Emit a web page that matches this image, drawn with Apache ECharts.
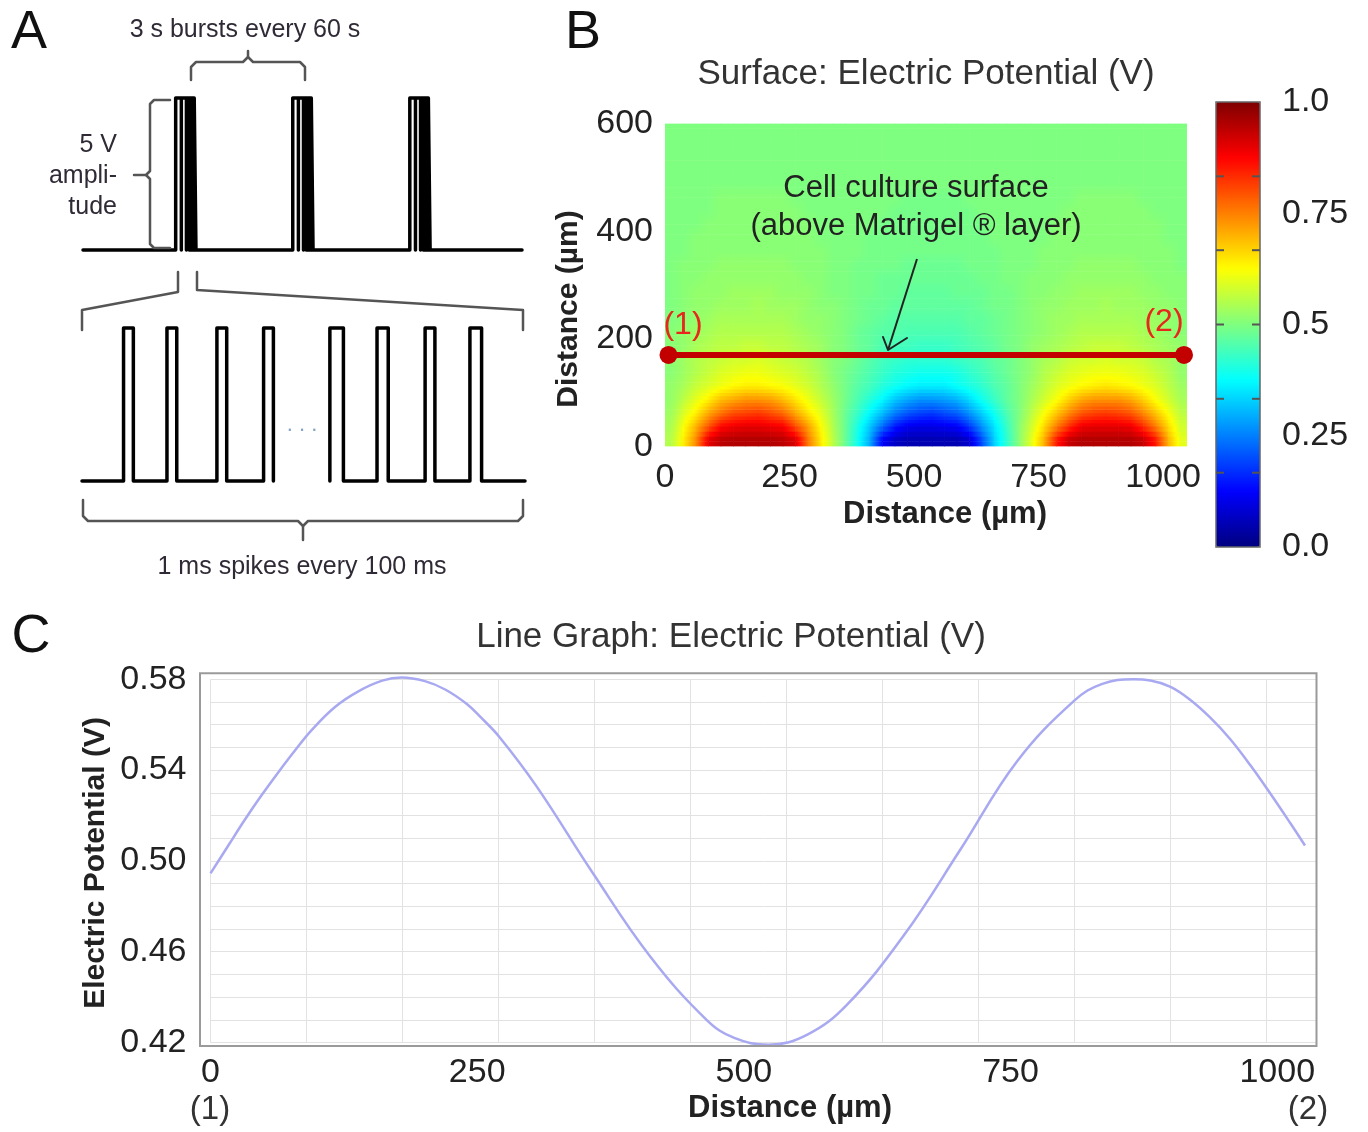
<!DOCTYPE html>
<html>
<head>
<meta charset="utf-8">
<script src="https://cdn.jsdelivr.net/npm/echarts@6/dist/echarts.min.js"></script>
<style>
html,body{margin:0;padding:0;background:#fff}
#c{width:1368px;height:1132px}
</style>
</head>
<body>
<div id="c"></div>
<script>
// ---------------- Panel A : stimulation schematic (schematic units) ----------------
const burstStarts = [47.5, 107.5, 167.5];          // s, one burst every 60 s
const burstEdges = [0, 2.9, 5.5, 6.9, 8.2, 9.5, 10.4]; // edges inside one burst
const burstTraceEnd = 225;
const spikesLeft = [[89, 110], [182, 203], [289, 310], [389, 410]];   // [rise, fall]
const spikesRight = [[531, 560], [632, 656], [735, 756], [831, 856]];
const spikeTraceEnd = 949;

// ---------------- Panel B : surface potential (V), rows from bottom (0 µm) to top (600 µm) ----------------
const heatRows = [
  "55 64 74 90 94 95 95 95 95 94 91 76 65 56  48 39 29 12 07 05 05 05 05 05 08 20 33 42  51 60 70 85 93 95 95 95 95 95 93 85 70 60",
  "54 62 70 79 87 89 90 90 89 88 80 72 63 55  48 40 32 23 15 11 10 10 11 12 18 27 35 43  51 58 66 75 83 89 90 90 90 89 83 75 66 58",
  "53 59 64 71 76 80 81 82 80 77 71 65 60 54  48 43 37 31 25 21 19 18 20 22 27 33 39 45  50 56 62 68 74 79 81 82 81 79 74 68 62 56",
  "52 56 60 64 69 71 73 73 72 69 65 61 57 53  49 45 41 37 32 29 27 27 28 30 34 39 43 47  50 54 58 62 67 71 73 73 73 71 67 62 58 54",
  "52 54 57 59 61 63 64 64 63 62 60 58 55 52  49 46 44 41 39 37 36 36 36 38 40 42 45 47  50 53 56 59 61 63 64 65 64 63 61 59 56 53",
  "51 53 55 57 59 60 61 61 60 59 58 56 54 51  49 47 45 43 41 40 39 39 39 40 42 44 46 48  50 52 55 57 59 60 61 61 61 60 59 57 55 52",
  "51 53 55 56 57 58 58 59 58 57 56 55 53 51  50 48 46 44 43 42 42 42 42 43 44 45 47 48  50 52 54 55 57 58 58 59 58 58 57 55 54 52",
  "51 52 54 55 56 56 57 57 56 56 55 54 53 51  50 48 47 45 44 44 43 43 43 44 45 46 47 49  50 52 53 54 55 56 57 57 57 56 55 54 53 52",
  "51 52 53 54 55 55 55 55 55 55 54 53 52 51  50 48 47 46 46 45 45 45 45 45 46 47 48 49  50 51 52 53 54 55 55 55 55 55 54 53 52 51",
  "50 51 52 53 54 54 54 54 54 54 53 52 52 51  50 49 48 47 46 46 46 46 46 46 47 47 48 49  50 51 52 53 53 54 54 54 54 54 53 53 52 51",
  "50 51 52 52 53 53 53 54 53 53 53 52 51 51  50 49 48 48 47 47 47 47 47 47 47 48 49 49  50 51 52 52 53 53 53 54 53 53 53 52 52 51",
  "50 51 52 52 52 53 53 53 53 52 52 52 51 50  50 49 49 48 48 47 47 47 47 48 48 48 49 49  50 51 51 52 52 53 53 53 53 53 52 52 51 51",
  "50 51 51 52 52 52 52 52 52 52 52 51 51 50  50 49 49 48 48 48 48 48 48 48 48 49 49 50  50 51 51 51 52 52 52 52 52 52 52 51 51 51",
  "50 51 51 51 52 52 52 52 52 52 51 51 51 50  50 49 49 49 49 48 48 48 48 48 49 49 49 50  50 50 51 51 51 52 52 52 52 52 51 51 51 50",
  "50 50 51 51 51 51 51 51 51 51 51 51 51 50  50 50 49 49 49 49 49 49 49 49 49 49 49 50  50 50 51 51 51 51 51 51 51 51 51 51 51 50",
  "50 50 51 51 51 51 51 51 51 51 51 51 50 50  50 50 49 49 49 49 49 49 49 49 49 49 50 50  50 50 50 51 51 51 51 51 51 51 51 51 50 50",
  "50 50 50 51 51 51 51 51 51 51 51 51 50 50  50 50 50 49 49 49 49 49 49 49 49 49 50 50  50 50 50 51 51 51 51 51 51 51 51 51 50 50",
  "50 50 50 50 51 51 51 51 51 51 51 50 50 50  50 50 50 50 49 49 49 49 49 49 49 50 50 50  50 50 50 50 51 51 51 51 51 51 51 50 50 50",
  "50 50 50 50 51 51 51 51 51 51 50 50 50 50  50 50 50 50 50 49 49 49 49 49 50 50 50 50  50 50 50 50 50 51 51 51 51 51 50 50 50 50",
  "50 50 50 50 50 50 50 50 50 50 50 50 50 50  50 50 50 50 50 50 50 50 50 50 50 50 50 50  50 50 50 50 50 50 50 50 50 50 50 50 50 50",
  "50 50 50 50 50 50 50 50 50 50 50 50 50 50  50 50 50 50 50 50 50 50 50 50 50 50 50 50  50 50 50 50 50 50 50 50 50 50 50 50 50 50",
  "50 50 50 50 50 50 50 50 50 50 50 50 50 50  50 50 50 50 50 50 50 50 50 50 50 50 50 50  50 50 50 50 50 50 50 50 50 50 50 50 50 50",
  "50 50 50 50 50 50 50 50 50 50 50 50 50 50  50 50 50 50 50 50 50 50 50 50 50 50 50 50  50 50 50 50 50 50 50 50 50 50 50 50 50 50",
  "50 50 50 50 50 50 50 50 50 50 50 50 50 50  50 50 50 50 50 50 50 50 50 50 50 50 50 50  50 50 50 50 50 50 50 50 50 50 50 50 50 50"
];
const cutLine = [[7, 170], [1042, 170]];          // µm
const xTicksB = [0, 250, 500, 750, 1000];
const yTicksB = [0, 200, 400, 600];
const cbarTicks = [0, 0.25, 0.5, 0.75, 1];
const cbarLabels = ['0.0', '0.25', '0.5', '0.75', '1.0'];
const cbarMarks = [0.167, 0.333, 0.5, 0.667, 0.833];
const JET = ['#00007f', '#0000ff', '#007fff', '#00ffff', '#7fff7f', '#ffff00', '#ff7f00', '#ff0000', '#7f0000'];

// ---------------- Panel C : potential along the cut line ----------------
const profileX = [0, 17, 32, 48, 64, 79, 95, 117, 139, 161, 179, 201, 220, 240, 253, 271, 306, 359, 412, 465, 491, 523, 560, 597, 650, 703, 756, 810, 836, 865, 881, 900, 918, 937, 956, 975, 993, 1012, 1026];
const profileV = [0.4945, 0.5070, 0.5180, 0.5290, 0.5393, 0.5485, 0.5577, 0.5679, 0.5748, 0.5794, 0.5808, 0.5792, 0.5755, 0.5692, 0.5634, 0.5545, 0.5326, 0.4942, 0.4580, 0.4300, 0.4220, 0.4190, 0.4236, 0.4368, 0.4672, 0.5050, 0.5438, 0.5707, 0.5780, 0.5800, 0.5795, 0.5767, 0.5711, 0.5632, 0.5536, 0.5420, 0.5300, 0.5168, 0.5068];
const xTicksC = [0, 250, 500, 750, 1000];
const yTicksC = [0.42, 0.46, 0.50, 0.54, 0.58];

// ---------------- build series data ----------------
function burstTrace() {
  const pts = [[0, 0]];
  burstStarts.forEach(s => {
    pts.push([s, 0], [s, 1]);
    for (let i = 1; i < burstEdges.length - 1; i++) {
      const t = s + burstEdges[i];
      pts.push([t, 1], [t, 0], [t, 1]);
    }
    const e = s + burstEdges[burstEdges.length - 1];
    pts.push([e, 1], [e, 0]);
  });
  pts.push([burstTraceEnd, 0]);
  return pts;
}
function spikeTrace(spikes, start, end) {
  const pts = [];
  if (start !== null) pts.push([start, 0]);
  spikes.forEach(([r, f]) => pts.push([r, 0], [r, 1], [f, 1], [f, 0]));
  if (end !== null) pts.push([end, 0]);
  return pts;
}
const heatGrid = heatRows.map(row => row.trim().split(/\s+/).map(v => Number(v) / 100));
const nRows = heatGrid.length, nCols = heatGrid[0].length;
const heatData = [];
heatGrid.forEach((row, r) => row.forEach((v, c) => heatData.push([c, r, v])));
const xCats = Array.from({length: nCols}, (_, i) => i);
const yCats = Array.from({length: nRows}, (_, i) => i);
const profile = profileX.map((x, i) => [x, profileV[i]]);

// smooth shading of the read cell values (rendering only)
function fieldAt(cf, rf) {
  cf = Math.max(0, Math.min(nCols - 1, cf));
  rf = Math.max(0, Math.min(nRows - 1, rf));
  const c0 = Math.floor(cf), r0 = Math.floor(rf);
  const c1 = Math.min(c0 + 1, nCols - 1), r1 = Math.min(r0 + 1, nRows - 1);
  const tx = cf - c0, ty = rf - r0;
  const a = heatGrid[r0][c0] * (1 - tx) + heatGrid[r0][c1] * tx;
  const b = heatGrid[r1][c0] * (1 - tx) + heatGrid[r1][c1] * tx;
  return a * (1 - ty) + b * ty;
}
function renderField(params, api) {
  const c = api.value(0), r = api.value(1);
  const sz = api.size([1, 1]);
  const cw = sz[0], ch = sz[1];
  const p = api.coord([c, r]);
  const x0 = c === 0 ? p[0] - cw / 2 : p[0];
  const x1 = c === nCols - 1 ? p[0] + cw / 2 : p[0] + cw;
  const yA = r === 0 ? p[1] + ch / 2 : p[1];
  const yB = r === nRows - 1 ? p[1] - ch / 2 : p[1] - ch;
  const S = 4, K = 4;
  const children = [];
  for (let s = 0; s < S; s++) {
    const ys0 = yA + (yB - yA) * s / S, ys1 = yA + (yB - yA) * (s + 1) / S;
    const ym = (ys0 + ys1) / 2;
    const rf = r + (p[1] - ym) / ch;
    const stops = [];
    for (let k = 0; k <= K; k++) {
      const xm = x0 + (x1 - x0) * k / K;
      const cf = c + (xm - p[0]) / cw;
      stops.push({offset: k / K, color: echarts.color.lerp(fieldAt(cf, rf), JET)});
    }
    children.push({
      type: 'rect',
      shape: {x: x0 - 0.3, y: Math.min(ys0, ys1) - 0.3, width: (x1 - x0) + 0.6, height: Math.abs(ys1 - ys0) + 0.6},
      style: {fill: new echarts.graphic.LinearGradient(0, 0, 1, 0, stops)}
    });
  }
  return {type: 'group', children: children};
}

const FONT = '"Liberation Sans", Arial, sans-serif';
function txt(x, y, text, size, o) {
  o = o || {};
  const font = (o.bold ? 'bold ' : '') + size + 'px ' + FONT;
  return {
    type: 'text', x: x, y: y, z: 100, rotation: o.rot || 0, silent: true,
    style: {text: text, font: font, fill: o.color || '#222',
      align: o.align || 'center', verticalAlign: 'middle',
      textAlign: o.align || 'center', textVerticalAlign: 'middle'}
  };
}
function pl(points, color, w) {
  return {type: 'polyline', z: 100, silent: true, shape: {points: points},
    style: {stroke: color || '#555', lineWidth: w || 2.5, fill: null, lineJoin: 'round', lineCap: 'round'}};
}
const waveStyle = {color: '#000', width: 3.5, join: 'round', cap: 'round'};

// colour-bar geometry
const CB = {left: 1216, top: 102, width: 44, height: 445};
const cbarMarkLines = [];
cbarMarks.forEach(m => {
  const y = CB.top + CB.height * (1 - m);
  cbarMarkLines.push({type: 'line', z: 101, silent: true, shape: {x1: CB.left, y1: y, x2: CB.left + 8, y2: y}, style: {stroke: '#555', lineWidth: 2}});
  cbarMarkLines.push({type: 'line', z: 101, silent: true, shape: {x1: CB.left + CB.width - 8, y1: y, x2: CB.left + CB.width, y2: y}, style: {stroke: '#555', lineWidth: 2}});
});

const chart = echarts.init(document.getElementById('c'), null, {renderer: 'canvas'});
const hiddenVal = (gi, min, max) => ({gridIndex: gi, type: 'value', min: min, max: max, show: false});
const plain = v => String(v);

chart.setOption({
  animation: false,
  backgroundColor: '#fff',
  textStyle: {fontFamily: FONT},
  grid: [
    {left: 83, top: 98, width: 439, height: 152, outerBoundsMode: 'none'},
    {left: 82, top: 328, width: 443, height: 153, outerBoundsMode: 'none'},
    {left: 665, top: 123.5, width: 522, height: 323, outerBoundsMode: 'none'},
    {left: 665, top: 123.5, width: 522, height: 323, outerBoundsMode: 'none'},
    {left: CB.left, top: CB.top, width: CB.width, height: CB.height, outerBoundsMode: 'none'},
    {left: 210.5, top: 679.3, width: 1106, height: 363.2, outerBoundsMode: 'none'}
  ],
  xAxis: [
    hiddenVal(0, 0, burstTraceEnd),
    hiddenVal(1, 0, spikeTraceEnd),
    {gridIndex: 2, type: 'category', data: xCats, show: false},
    {gridIndex: 3, type: 'value', min: 0, max: 1048,
      axisLine: {show: false}, axisTick: {show: false}, splitLine: {show: false},
      axisLabel: {customValues: xTicksB, formatter: plain, fontSize: 34, color: '#222', margin: 14, fontFamily: FONT}},
    hiddenVal(4, 0, 1),
    {gridIndex: 5, type: 'value', min: 0, max: 1036.8, interval: 90,
      axisLine: {show: false}, axisTick: {show: false},
      splitLine: {show: true, lineStyle: {color: '#e2e2e2', width: 1}},
      axisLabel: {customValues: xTicksC, formatter: plain, fontSize: 34, color: '#222', margin: 13, fontFamily: FONT}}
  ],
  yAxis: [
    hiddenVal(0, 0, 1),
    hiddenVal(1, 0, 1),
    {gridIndex: 2, type: 'category', data: yCats, show: false},
    {gridIndex: 3, type: 'value', min: 0, max: 600,
      axisLine: {show: false}, axisTick: {show: false}, splitLine: {show: false},
      axisLabel: {customValues: yTicksB, formatter: plain, fontSize: 34, color: '#222', margin: 12, fontFamily: FONT}},
    {gridIndex: 4, type: 'value', min: 0, max: 1, position: 'right',
      axisLine: {show: false}, splitLine: {show: false}, axisTick: {show: false},
      axisLabel: {customValues: cbarTicks, fontSize: 34, color: '#222', margin: 22, fontFamily: FONT,
        formatter: v => cbarLabels[cbarTicks.findIndex(t => Math.abs(t - v) < 1e-9)]}},
    {gridIndex: 5, type: 'value', min: 0.42, max: 0.58, interval: 0.01,
      axisLine: {show: false}, axisTick: {show: false},
      splitLine: {show: true, lineStyle: {color: '#e2e2e2', width: 1}},
      axisLabel: {customValues: yTicksC, fontSize: 34, color: '#222', margin: 24, fontFamily: FONT,
        formatter: v => v.toFixed(2)}}
  ],
  visualMap: [{
    type: 'continuous', seriesIndex: 3, min: 0, max: 1, calculable: false, hoverLink: false,
    left: CB.left, top: CB.top, itemWidth: CB.width, itemHeight: CB.height, padding: 0,
    inRange: {color: JET}
  }],
  series: [
    {type: 'line', xAxisIndex: 0, yAxisIndex: 0, data: burstTrace(), symbol: 'none', clip: false, silent: true, lineStyle: waveStyle},
    {type: 'line', xAxisIndex: 1, yAxisIndex: 1, data: spikeTrace(spikesLeft, 0, null), symbol: 'none', clip: false, silent: true, lineStyle: waveStyle},
    {type: 'line', xAxisIndex: 1, yAxisIndex: 1, data: spikeTrace(spikesRight, null, spikeTraceEnd), symbol: 'none', clip: false, silent: true, lineStyle: waveStyle},
    {type: 'custom', coordinateSystem: 'cartesian2d', xAxisIndex: 2, yAxisIndex: 2, data: heatData,
      dimensions: ['col', 'row', 'V'], encode: {x: 0, y: 1}, renderItem: renderField, silent: true, clip: true},
    {type: 'line', xAxisIndex: 3, yAxisIndex: 3, data: cutLine, symbol: 'circle', symbolSize: 18, showSymbol: true,
      clip: false, silent: true, z: 10, lineStyle: {color: '#c20000', width: 6}, itemStyle: {color: '#c20000'}},
    {type: 'line', xAxisIndex: 5, yAxisIndex: 5, data: profile, symbol: 'none', smooth: 0.4, clip: false, silent: true,
      lineStyle: {color: '#a9a9f2', width: 2.5}}
  ],
  graphic: [
    // panel letters
    txt(29, 33, 'A', 54, {color: '#111'}),
    txt(583, 33, 'B', 54, {color: '#111'}),
    txt(31, 637, 'C', 54, {color: '#111'}),
    // panel A annotations
    txt(245, 30, '3 s bursts every 60 s', 25, {color: '#2f2a35'}),
    pl([[191, 80], [191, 67], [196, 62], [243, 62], [248, 57], [248, 51]]),
    pl([[305, 80], [305, 67], [300, 62], [253, 62], [248, 57]]),
    txt(117, 145, '5 V', 25, {align: 'right', color: '#2f2a35'}),
    txt(117, 176, 'ampli-', 25, {align: 'right', color: '#2f2a35'}),
    txt(117, 207, 'tude', 25, {align: 'right', color: '#2f2a35'}),
    pl([[170, 100], [154, 100], [150, 104], [150, 171], [146, 175], [134, 175]]),
    pl([[146, 175], [150, 179], [150, 244], [154, 248], [170, 248]]),
    pl([[178, 272], [178, 292], [82, 310], [82, 330]]),
    pl([[197, 272], [197, 290], [523, 310], [523, 330]]),
    txt(302, 425, '. . .', 22, {color: '#86a2c4'}),
    pl([[83, 500], [83, 516], [88, 521], [298, 521], [303, 526], [303, 540]]),
    pl([[523, 500], [523, 516], [518, 521], [308, 521], [303, 526]]),
    txt(302, 567, '1 ms spikes every 100 ms', 25, {color: '#2f2a35'}),
    // panel B
    txt(926, 74, 'Surface: Electric Potential (V)', 35, {color: '#333'}),
    txt(916, 188, 'Cell culture surface', 31, {color: '#222'}),
    txt(916, 226, '(above Matrigel \u00AE layer)', 31, {color: '#222'}),
    {type: 'line', z: 100, silent: true, shape: {x1: 917, y1: 259, x2: 888, y2: 350}, style: {stroke: '#222', lineWidth: 2}},
    pl([[883, 337], [888, 350], [907, 338]], '#222', 2),
    txt(683, 325, '(1)', 32, {color: '#e8261e'}),
    txt(1164, 322, '(2)', 32, {color: '#e8261e'}),
    txt(945, 514, 'Distance (\u00B5m)', 31, {bold: true, color: '#222'}),
    txt(569, 309, 'Distance (\u00B5m)', 30, {bold: true, color: '#222', rot: Math.PI / 2}),
    {type: 'rect', z: 100, silent: true, shape: {x: CB.left, y: CB.top, width: CB.width, height: CB.height}, style: {fill: null, stroke: '#666', lineWidth: 1.5}}
  ].concat(cbarMarkLines, [
    // panel C
    txt(731, 637, 'Line Graph: Electric Potential (V)', 35, {color: '#333'}),
    {type: 'rect', z: 100, silent: true, shape: {x: 200, y: 673.3, width: 1116.5, height: 372.7}, style: {fill: null, stroke: '#9a9a9a', lineWidth: 2}},
    txt(96, 863, 'Electric Potential (V)', 30, {bold: true, color: '#222', rot: Math.PI / 2}),
    txt(790, 1108, 'Distance (\u00B5m)', 31, {bold: true, color: '#222'}),
    txt(210, 1110, '(1)', 33, {color: '#333'}),
    txt(1308, 1110, '(2)', 33, {color: '#333'})
  ])
});
</script>
</body>
</html>
